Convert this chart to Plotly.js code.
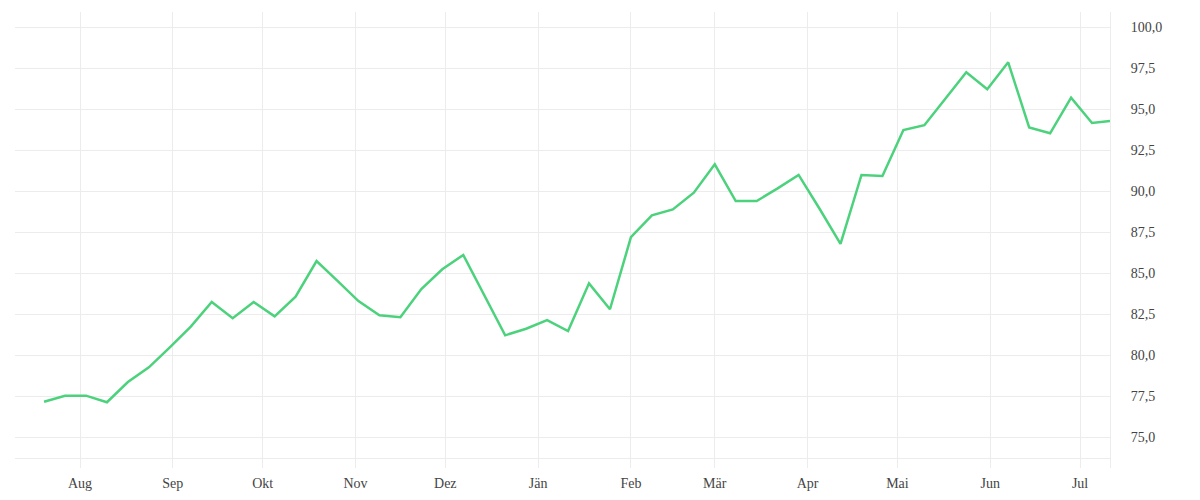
<!DOCTYPE html>
<html>
<head>
<meta charset="utf-8">
<script src="https://cdn.plot.ly/plotly-3.0.1.min.js"></script>
<style>
  html, body { margin: 0; padding: 0; background: #fff; }
  #plot { width: 1200px; height: 500px; }
</style>
</head>
<body>
<div id="plot"></div>
<script>
// weekly values
var dates = [
  '2022-07-20', '2022-07-27', '2022-08-03', '2022-08-10', '2022-08-17', '2022-08-24', '2022-08-31',
  '2022-09-07', '2022-09-14', '2022-09-21', '2022-09-28', '2022-10-05', '2022-10-12', '2022-10-19',
  '2022-10-26', '2022-11-02', '2022-11-09', '2022-11-16', '2022-11-23', '2022-11-30', '2022-12-07',
  '2022-12-14', '2022-12-21', '2022-12-28', '2023-01-04', '2023-01-11', '2023-01-18', '2023-01-25',
  '2023-02-01', '2023-02-08', '2023-02-15', '2023-02-22', '2023-03-01', '2023-03-08', '2023-03-15',
  '2023-03-22', '2023-03-29', '2023-04-05', '2023-04-12', '2023-04-19', '2023-04-26', '2023-05-03',
  '2023-05-10', '2023-05-17', '2023-05-24', '2023-05-31', '2023-06-07', '2023-06-14', '2023-06-21',
  '2023-06-28', '2023-07-05', '2023-07-11'
];
var values = [
  77.15, 77.52, 77.52, 77.12, 78.35, 79.25, 80.47, 81.73, 83.23, 82.24,
  83.23, 82.36, 83.56, 85.73, 84.52, 83.29, 82.42, 82.30, 84.02, 85.23,
  86.10, 83.69, 81.20, 81.60, 82.13, 81.46, 84.37, 82.79, 87.18, 88.52,
  88.88, 89.90, 91.63, 89.39, 89.39, 90.16, 90.98, 88.92, 86.77, 90.98,
  90.91, 93.72, 94.01, 95.63, 97.24, 96.20, 97.85, 93.88, 93.52, 95.69,
  94.15, 94.27
];
var monthTicks = [
  '2022-08-01', '2022-09-01', '2022-10-01', '2022-11-01', '2022-12-01', '2023-01-01',
  '2023-02-01', '2023-03-01', '2023-04-01', '2023-05-01', '2023-06-01', '2023-07-01'
];
var monthLabels = ['Aug', 'Sep', 'Okt', 'Nov', 'Dez', 'Jän', 'Feb', 'Mär', 'Apr', 'Mai', 'Jun', 'Jul'];

var gridCol = '#ececec';
var fontFam = '"Liberation Serif", "DejaVu Serif", serif';

var trace = {
  type: 'scatter',
  mode: 'lines',
  x: dates,
  y: values,
  line: {color: '#4cd27c', width: 2.5},
  hoverinfo: 'skip'
};

var layout = {
  width: 1200,
  height: 500,
  margin: {l: 15, r: 90, t: 12, b: 32},
  paper_bgcolor: '#ffffff',
  plot_bgcolor: '#ffffff',
  separators: ',.',
  showlegend: false,
  font: {family: fontFam, size: 14, color: '#444'},
  xaxis: {
    type: 'date',
    range: ['2022-07-10 07:00', '2023-07-11'],
    tickmode: 'array',
    tickvals: monthTicks,
    ticktext: monthLabels,
    showgrid: true,
    gridcolor: gridCol,
    gridwidth: 1,
    zeroline: false,
    anchor: 'free',
    position: 0.022,
    showline: true,
    linecolor: gridCol,
    linewidth: 1,
    ticks: '',
    ticklabelstandoff: 12
  },
  yaxis: {
    side: 'right',
    range: [73.11, 100.915],
    tick0: 0,
    dtick: 2.5,
    tickformat: '.1f',
    showgrid: true,
    gridcolor: gridCol,
    gridwidth: 1,
    zeroline: false,
    showline: true,
    linecolor: gridCol,
    linewidth: 1,
    ticks: '',
    ticklabelstandoff: 17
  }
};

Plotly.newPlot('plot', [trace], layout, {displayModeBar: false, staticPlot: true});
</script>
</body>
</html>
